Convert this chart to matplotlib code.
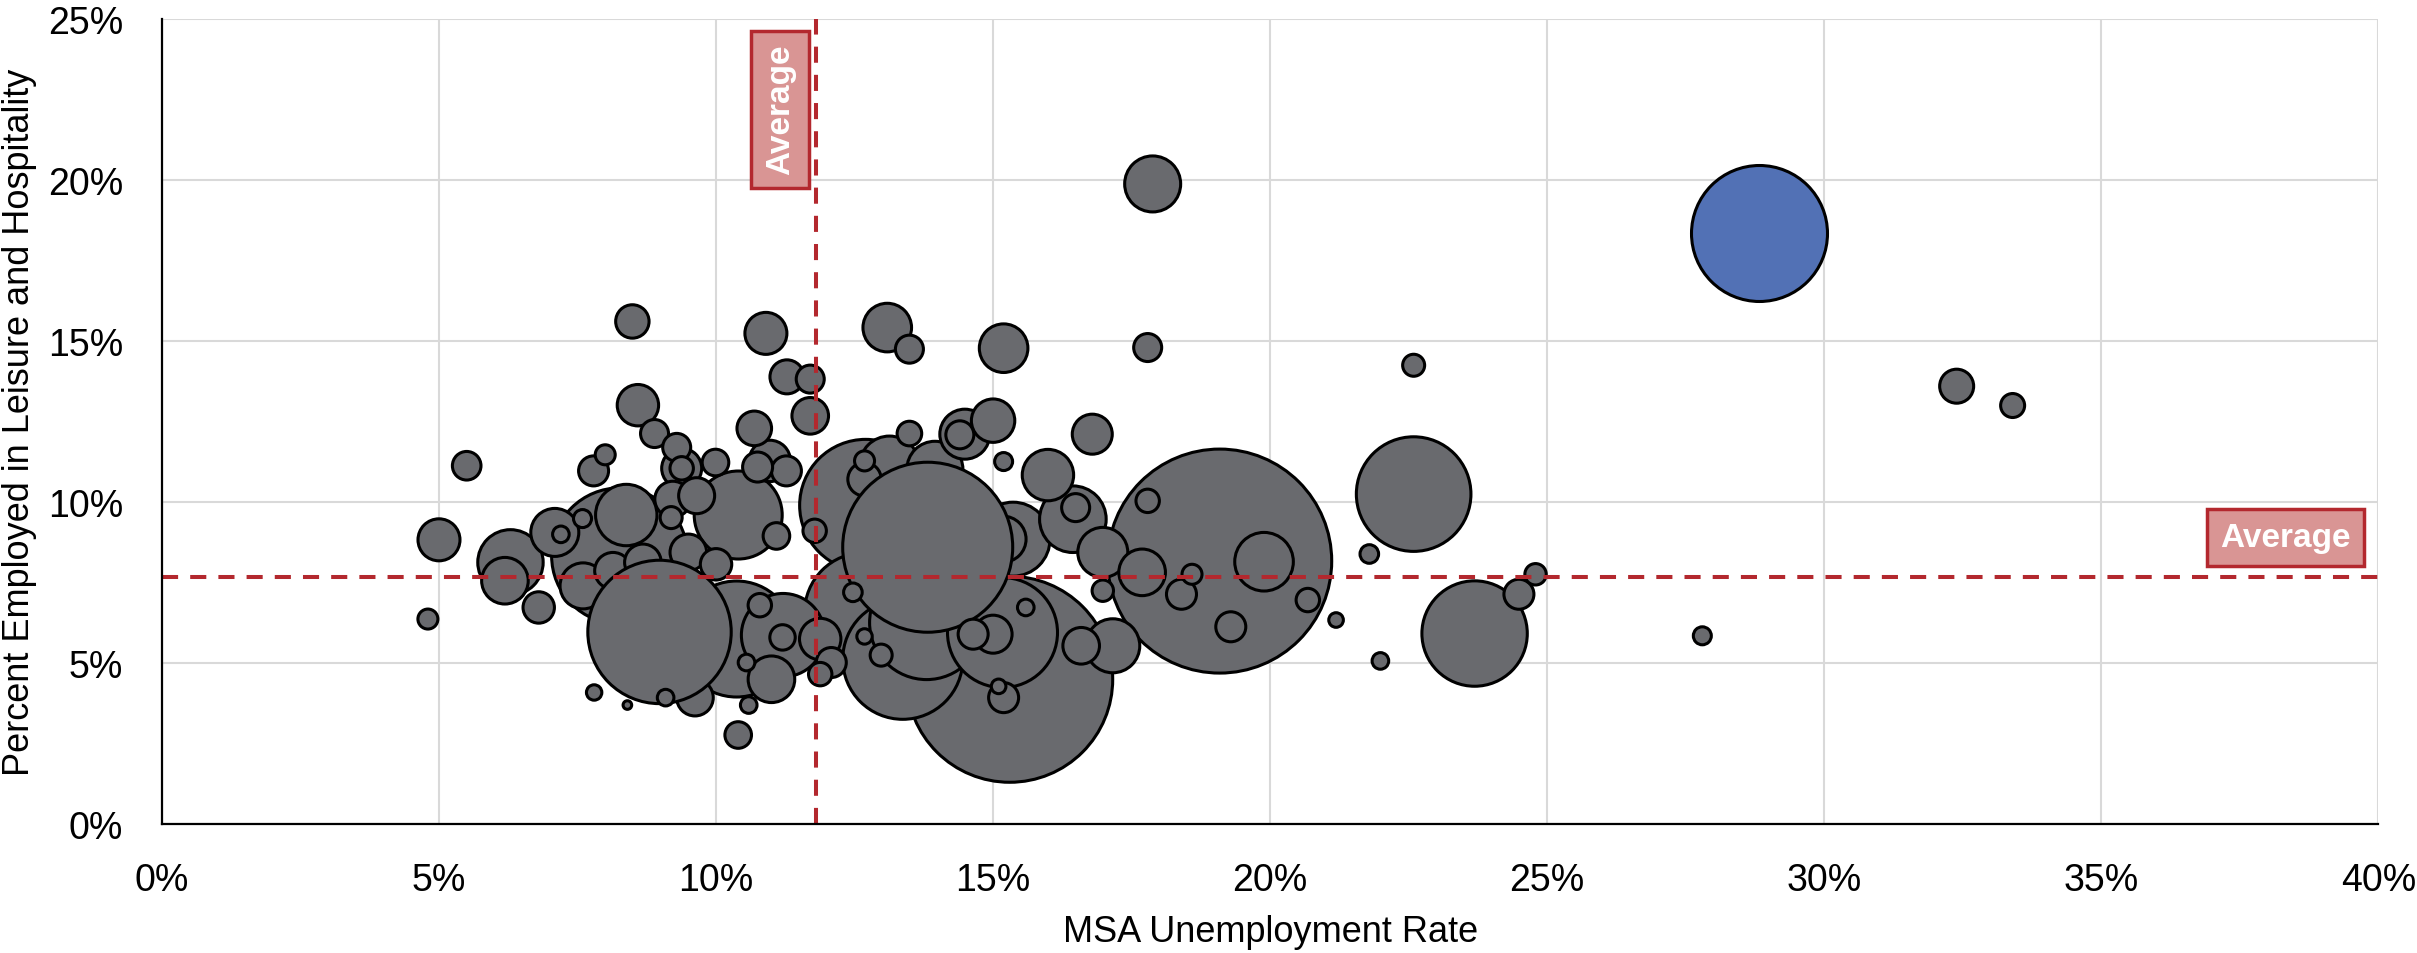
import matplotlib.pyplot as plt
import numpy as np

# MSA unemployment rate (%) vs percent employed in leisure & hospitality (%)
unemp = [4.80, 5.00, 5.50, 6.29, 6.19, 6.80, 7.09, 7.20, 7.59, 7.79,
         8.00, 7.80, 8.40, 8.26, 8.38, 8.49, 8.59, 8.89, 9.29, 9.38,
         9.38, 9.99, 9.19, 8.14, 8.68, 9.50, 10.00, 8.98, 9.09, 9.62,
         7.60, 9.22, 9.65, 10.40, 10.37, 10.55, 10.59, 10.40, 10.79, 11.21,
         11.20, 11.00, 10.90, 11.28, 10.69, 10.97, 11.27, 10.75, 11.09, 11.70,
         11.70, 11.78, 11.88, 12.08, 11.88, 12.47, 12.68, 12.68, 12.98, 12.68,
         12.68, 12.70, 13.13, 13.95, 13.45, 13.82, 13.37, 13.80, 13.09, 13.49,
         13.49, 14.49, 14.40, 15.00, 15.19, 15.19, 15.99, 15.36, 15.18, 15.17,
         15.00, 14.64, 15.59, 15.19, 15.10, 15.30, 16.59, 17.16, 16.49, 16.44,
         16.98, 16.79, 17.69, 17.79, 17.79, 18.40, 18.59, 16.98, 17.88, 19.09,
         19.89, 19.29, 20.68, 21.19, 21.79, 21.99, 22.59, 22.59, 23.69, 24.49,
         24.79, 27.80, 32.39, 33.40]
leisure = [6.37, 8.83, 11.13, 8.13, 7.56, 6.73, 9.06, 9.00, 9.49, 10.97,
           11.47, 4.09, 3.70, 8.33, 9.60, 15.61, 13.01, 12.13, 11.70, 11.05,
           11.05, 11.23, 9.52, 7.87, 8.13, 8.44, 8.07, 5.97, 3.93, 3.93,
           7.40, 10.09, 10.20, 9.60, 5.75, 5.02, 3.70, 2.77, 6.80, 5.87,
           5.80, 4.50, 15.24, 13.89, 12.29, 11.28, 10.97, 11.09, 8.95, 13.82,
           12.68, 9.11, 5.75, 5.02, 4.66, 7.20, 6.57, 5.83, 5.25, 11.28,
           10.71, 9.90, 11.12, 11.02, 8.75, 8.60, 5.12, 6.26, 15.42, 14.75,
           12.13, 12.11, 12.09, 12.53, 14.78, 11.26, 10.84, 8.85, 8.85, 5.95,
           5.90, 5.90, 6.73, 3.93, 4.28, 4.50, 5.54, 5.54, 9.83, 9.47,
           8.44, 12.11, 7.82, 10.04, 14.80, 7.14, 7.76, 7.25, 19.88, 8.17,
           8.15, 6.13, 6.96, 6.34, 8.39, 5.07, 14.25, 10.25, 5.92, 7.14,
           7.76, 5.85, 13.60, 13.00]
# relative bubble size (total employment)
emp_size = [10, 21, 14.3, 32.7, 23.3, 15.7, 24, 8.3, 9, 15,
            10, 7.7, 4.3, 68, 30.7, 16.7, 20.7, 14, 14, 20,
            11.7, 13.3, 11, 18.3, 18.3, 18.3, 15.7, 71.7, 8.3, 18.3,
            23, 18, 18, 44, 58, 8.3, 8.3, 13.3, 11.7, 41.7,
            12.7, 23.3, 21, 17, 17.3, 20.7, 15, 15, 13.3, 14,
            18.3, 11.7, 20.7, 15, 11.7, 9.3, 60, 7.7, 11, 10,
            16.7, 66, 30, 28, 75, 85, 60, 57, 24.3, 14,
            12.3, 25, 14, 21.7, 24.3, 9, 25.7, 37, 23, 55,
            19, 15, 8.3, 15, 7.3, 103, 18.3, 27, 14, 33.3,
            25, 20, 23.3, 11.7, 14, 15, 10, 10.7, 28, 112,
            29.3, 15, 11.7, 7.3, 9.3, 8.3, 11, 57.3, 52.7, 15,
            10.7, 9, 17, 12]

# highlighted MSA
hl_unemp = [28.83]
hl_leisure = [18.35]
hl_size = [68]

avg_unemp = 11.81
avg_leisure = 7.68

DPI = 100
plt.rcParams['font.family'] = ['Liberation Sans Narrow', 'Liberation Sans', 'DejaVu Sans']

fig = plt.figure(figsize=(24.17, 9.54), dpi=DPI)
ax = fig.add_axes([0.067, 0.135, 0.917, 0.844])

def area(r):
	return (np.array(r) * 2 * 72.0 / DPI) ** 2

# draw big bubbles first so small ones stay visible,
# but the two largest metros in the cluster sit over their mid-sized neighbours
draw_key = np.array(emp_size, dtype=float)
draw_key[65] = 15.8
draw_key[27] = 15.8
order = np.argsort(-draw_key, kind='stable')
x = np.array(unemp)[order]
y = np.array(leisure)[order]
s = area(np.array(emp_size)[order])
ax.scatter(x, y, s=s, c='#696A6E', edgecolors='black', linewidths=2.2, zorder=3)
ax.scatter(hl_unemp, hl_leisure, s=area(hl_size), c='#5271B5', edgecolors='black', linewidths=2.2, zorder=4)

red = '#B3282E'
ax.axvline(avg_unemp, color=red, lw=2.9, linestyle=(0, (4, 3)), zorder=5)
ax.axhline(avg_leisure, color=red, lw=2.9, linestyle=(0, (4, 3)), zorder=5)

box = dict(boxstyle='square,pad=0.4', fc='#D99594', ec=red, lw=2.5)
ax.text(38.33, 8.9, 'Average', color='white', fontsize=24, fontweight='bold',
		ha='center', va='center', bbox=box, zorder=6)
ax.text(11.16, 22.2, 'Average', color='white', fontsize=24, fontweight='bold',
		ha='center', va='center', rotation=90, bbox=box, zorder=6)

ax.set_xlim(0, 40)
ax.set_ylim(0, 25)
ax.set_xticks(np.arange(0, 41, 5))
ax.set_yticks(np.arange(0, 26, 5))
ax.set_xticklabels(['%d%%' % v for v in range(0, 41, 5)])
ax.set_yticklabels(['%d%%' % v for v in range(0, 26, 5)])
ax.tick_params(length=0, labelsize=27)
ax.tick_params(axis='y', pad=28)
ax.tick_params(axis='x', pad=27)
ax.grid(True, color='#D9D9D9', lw=1.5, zorder=0)
ax.set_axisbelow(True)

for side in ['top', 'right']:
	ax.spines[side].set_visible(False)
for side in ['left', 'bottom']:
	ax.spines[side].set_linewidth(1.6)
	ax.spines[side].set_zorder(7)

ax.set_xlabel('MSA Unemployment Rate', fontsize=26, labelpad=12)
ax.set_ylabel('Percent Employed in Leisure and Hospitality', fontsize=26, labelpad=8)

fig.savefig('out.png', dpi=DPI)
